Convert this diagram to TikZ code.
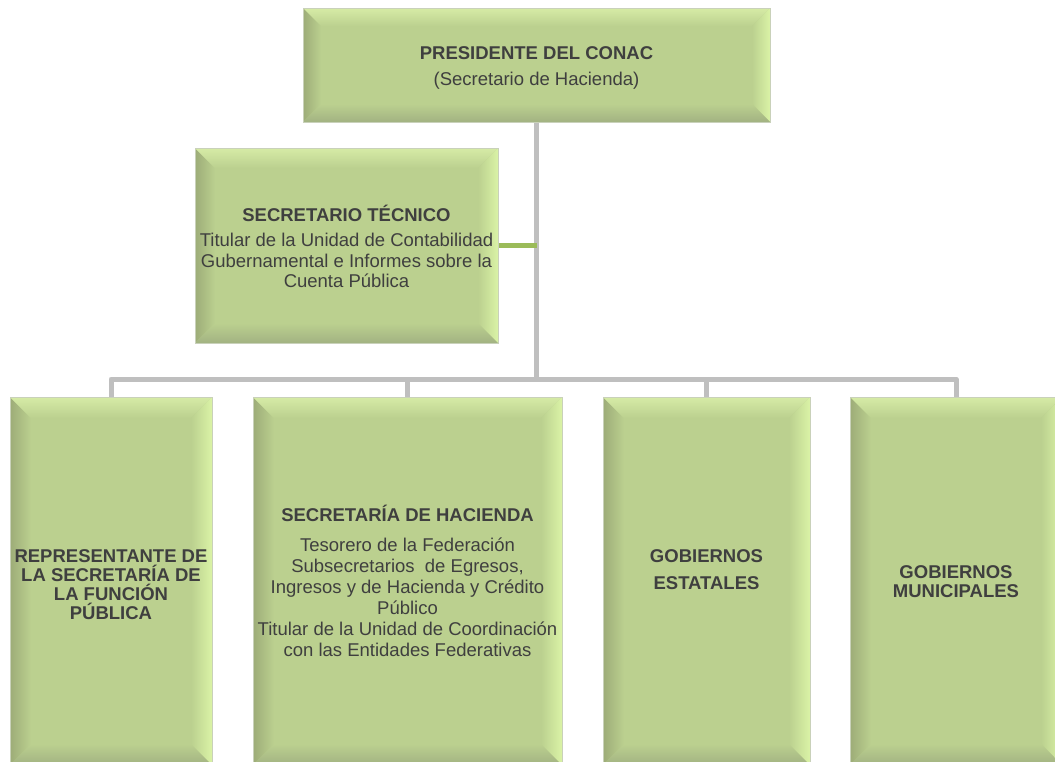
\documentclass[tikz,border=0pt]{standalone}
\usepackage{fontspec}
\setmainfont{Liberation Sans}
\usetikzlibrary{calc}
\newcommand\nolsk{\lineskiplimit=-50pt\relax}
\definecolor{face}{HTML}{BBD08F}
\definecolor{bevdark}{HTML}{9DAC78}
\definecolor{bevlight}{HTML}{DAF3A6}
\definecolor{bevtop}{HTML}{D6EBA6}
\definecolor{bevbot}{HTML}{A2B282}
\definecolor{edge}{HTML}{C9D1BA}
\definecolor{conn}{HTML}{BFBFBF}
\definecolor{gconn}{HTML}{9BBB59}
\definecolor{txt}{HTML}{3F3F3F}
\tikzset{
  bevbox/.style={rectangle, inner sep=0pt, fill=face, draw=edge, line width=1pt,
    path picture={
      \path (path picture bounding box.north west) coordinate (pNW)
            (path picture bounding box.north east) coordinate (pNE)
            (path picture bounding box.south west) coordinate (pSW)
            (path picture bounding box.south east) coordinate (pSE);
      \shade[left color=bevdark, right color=face] (pNW) -- ($(pNW)+(#1,-#1)$) -- ($(pSW)+(#1,#1)$) -- (pSW) -- cycle;
      \shade[top color=bevtop, bottom color=face] (pNW) -- (pNE) -- ($(pNE)+(-#1,-#1)$) -- ($(pNW)+(#1,-#1)$) -- cycle;
      \shade[left color=face, right color=bevlight] (pNE) -- (pSE) -- ($(pSE)+(-#1,#1)$) -- ($(pNE)+(-#1,-#1)$) -- cycle;
      \shade[top color=face, bottom color=bevbot] (pSW) -- (pSE) -- ($(pSE)+(-#1,#1)$) -- ($(pSW)+(#1,#1)$) -- cycle;
    }},
  bevbox/.default=20pt,
  lbl/.style={align=center, text=txt, inner sep=0pt, font=\fontsize{18.5}{21}\selectfont\nolsk},
  lbltight/.style={align=center, text=txt, inner sep=0pt, font=\fontsize{18.5}{19}\selectfont\bfseries\nolsk},
  gline/.style={draw=conn, line width=5pt, line join=round},
  greenline/.style={draw=gconn, line width=5pt},
}
\begin{document}
\begin{tikzpicture}[x=1pt, y=-1pt]
\useasboundingbox (0,0) rectangle (1055,761);
\clip (0,0) rectangle (1055,761);
% boxes
\node[bevbox=18pt, minimum width=467pt, minimum height=114pt] (top) at (536.5,65) {};
\node[bevbox, minimum width=303pt, minimum height=195pt] (sec) at (346.5,245.5) {};
\node[bevbox=21pt, minimum width=202pt, minimum height=368pt] (b1) at (111,581) {};
\node[bevbox=21pt, minimum width=309pt, minimum height=368pt] (b2) at (407.5,581) {};
\node[bevbox=21pt, minimum width=207pt, minimum height=368pt] (b3) at (706.5,581) {};
\node[bevbox=21pt, minimum width=212pt, minimum height=368pt] (b4) at (956,581) {};
% texts
\node[lbl] (ttop) at (536.5,67.8) {\strut\textbf{PRESIDENTE DEL CONAC}\\[5pt](Secretario de Hacienda)\strut};
\node[lbl, font=\fontsize{18.5}{20.5}\selectfont\nolsk] (tsec) at (346.5,249.3) {\strut\textbf{SECRETARIO TÉCNICO}\\[5pt]Titular de la Unidad de Contabilidad\\Gubernamental e Informes sobre la\\Cuenta Pública\strut};
\node[lbltight] (tb1) at (111,587) {\strut REPRESENTANTE DE\\LA SECRETARÍA DE\\LA FUNCIÓN\\PÚBLICA\strut};
\node[lbl] (tb2) at (407.5,583.8) {\strut\textbf{SECRETARÍA DE HACIENDA}\\[9pt]Tesorero de la Federación\\Subsecretarios\ \ de Egresos,\\Ingresos y de Hacienda y Crédito\\Público\\Titular de la Unidad de Coordinación\\con las Entidades Federativas\strut};
\node[lbl, font=\fontsize{18.5}{21}\selectfont\bfseries\nolsk] (tb3) at (706.5,571.5) {\strut GOBIERNOS\\[6pt]ESTATALES\strut};
\node[lbltight] (tb4) at (956,584.5) {\strut GOBIERNOS\\MUNICIPALES\strut};
% connectors
\coordinate (bus) at (536.5,379);
\draw[gline] (top.south) -- (top.south |- bus);
\draw[gline] (b1.north) -- (b1.north |- bus) -- (b4.north |- bus) -- (b4.north);
\draw[gline] (b2.north) -- (b2.north |- bus);
\draw[gline] (b3.north) -- (b3.north |- bus);
\draw[greenline] (sec.east) -- (sec.east -| top.south);
\end{tikzpicture}
\end{document}
